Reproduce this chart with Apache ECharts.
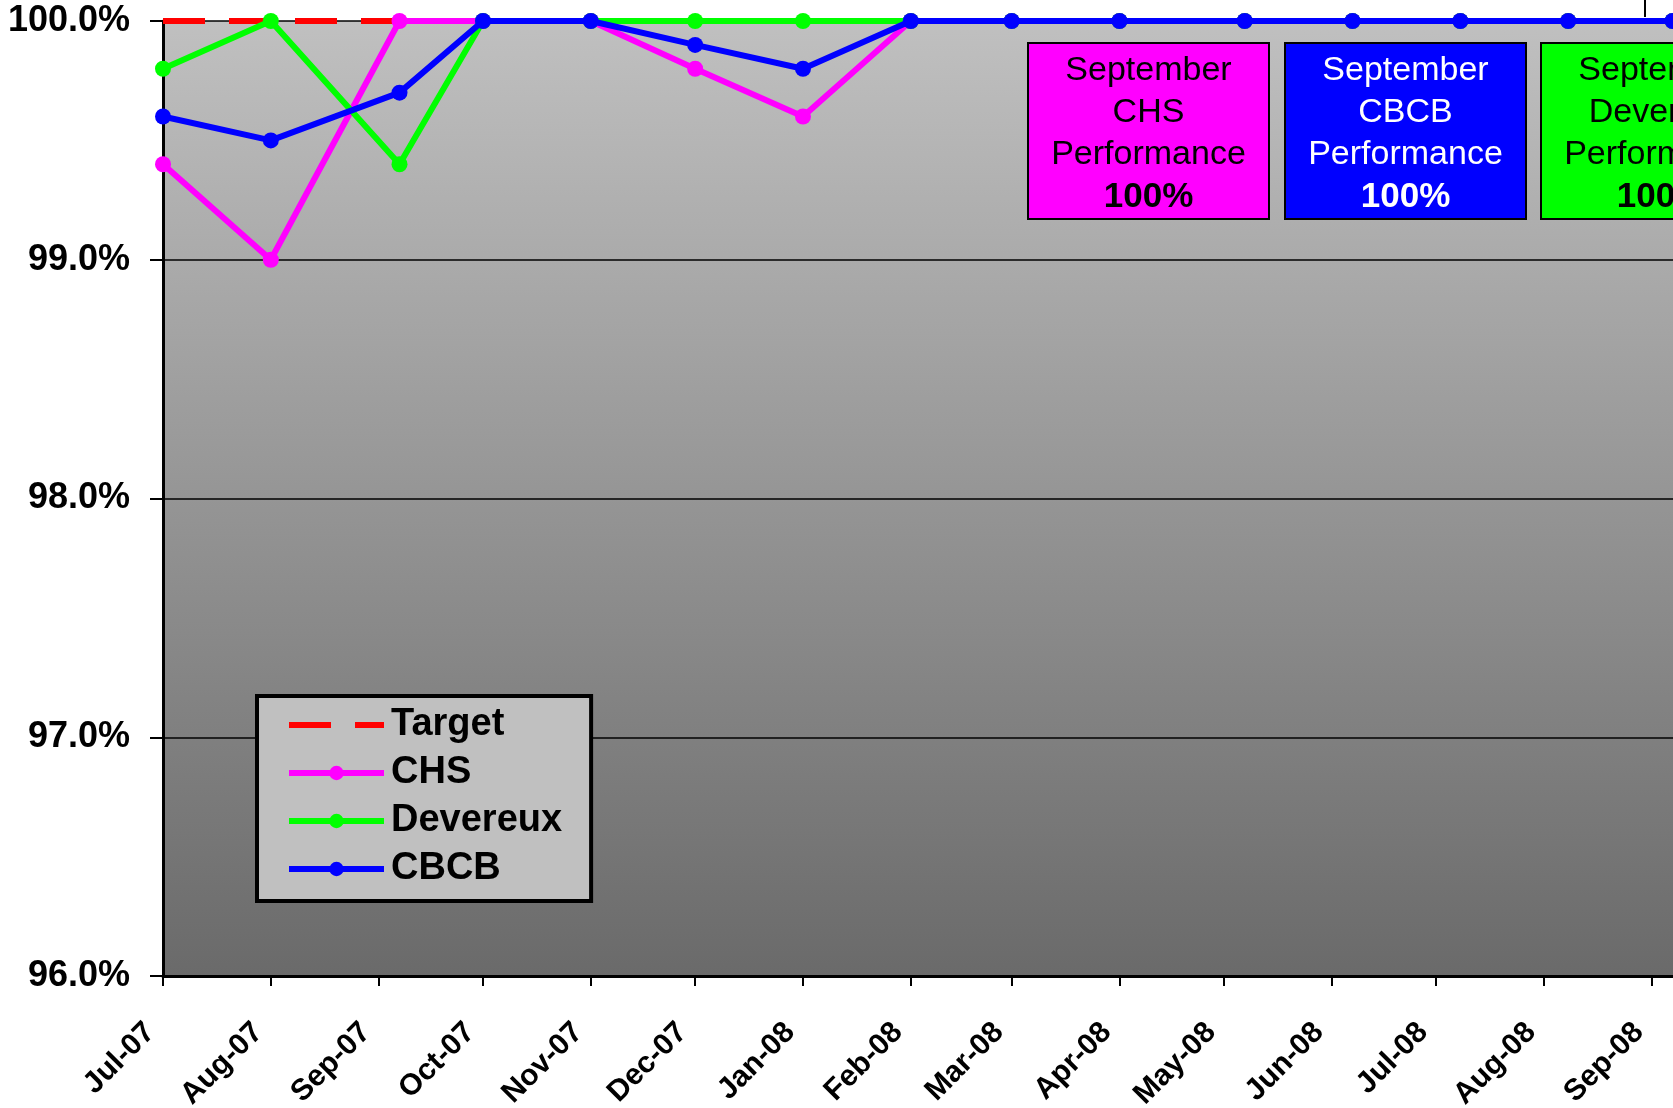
<!DOCTYPE html>
<html>
<head>
<meta charset="utf-8">
<script src="https://cdn.jsdelivr.net/npm/echarts@6/dist/echarts.min.js"></script>
<style>
html, body { margin: 0; padding: 0; background: #fff; overflow: hidden; }
#container { width: 1800px; height: 1108px; }
</style>
</head>
<body>
<div id="container"></div>
<script>
// dates of each monthly reading (a few were taken a week into the month)
var dates = ['2007-07-01', '2007-08-01', '2007-09-07', '2007-10-01', '2007-11-01', '2007-12-01',
    '2008-01-01', '2008-02-01', '2008-03-01', '2008-04-01', '2008-05-07', '2008-06-07',
    '2008-07-08', '2008-08-08', '2008-09-07'];
var targetValues   = [100, 100, 100, 100, 100, 100, 100, 100, 100, 100, 100, 100, 100, 100, 100];
var chsValues      = [99.4, 99.0, 100, 100, 100, 99.8, 99.6, 100, 100, 100, 100, 100, 100, 100, 100];
var devereuxValues = [99.8, 100, 99.4, 100, 100, 100, 100, 100, 100, 100, 100, 100, 100, 100, 100];
var cbcbValues     = [99.6, 99.5, 99.7, 100, 100, 99.9, 99.8, 100, 100, 100, 100, 100, 100, 100, 100];

// x axis ticks (month starts) and their labels
var tickDates = ['2007-07-01', '2007-08-01', '2007-09-01', '2007-10-01', '2007-11-01', '2007-12-01',
    '2008-01-01', '2008-02-01', '2008-03-01', '2008-04-01', '2008-05-01', '2008-06-01',
    '2008-07-01', '2008-08-01', '2008-09-01'];
var tickLabels = ['Jul-07', 'Aug-07', 'Sep-07', 'Oct-07', 'Nov-07', 'Dec-07', 'Jan-08', 'Feb-08',
    'Mar-08', 'Apr-08', 'May-08', 'Jun-08', 'Jul-08', 'Aug-08', 'Sep-08'];
var axisStart = '2007-07-01';
var axisEnd = '2008-10-01';

// september performance boxes
var boxNames  = ['CHS', 'CBCB', 'Devereux'];
var boxValues = ['100%', '100%', '100%'];

var FONT = "'Liberation Sans', Arial, sans-serif";

function t(d) { return Date.parse(d); }   // date-only strings parse as UTC

function pairs(vals) {
    var res = [];
    for (var i = 0; i < vals.length; i++) {
        res.push([t(dates[i]), vals[i]]);
    }
    return res;
}

var tickTimes = tickDates.map(t);
var labelByTime = {};
for (var i = 0; i < tickTimes.length; i++) {
    labelByTime[tickTimes[i]] = tickLabels[i];
}

var boxStyle = {
    CHS:      { x: 1028, fill: '#ff00ff', text: '#000' },
    CBCB:     { x: 1285, fill: '#0000ff', text: '#fff' },
    Devereux: { x: 1541, fill: '#00ff00', text: '#000' }
};

function perfBox(name, value) {
    var s = boxStyle[name];
    return {
        type: 'group',
        x: s.x,
        y: 43,
        children: [
            {
                type: 'rect',
                shape: { x: 0, y: 0, width: 241, height: 176 },
                style: { fill: s.fill, stroke: '#000', lineWidth: 2 }
            },
            {
                type: 'text',
                x: 120.5,
                y: 91,
                style: {
                    text: 'September\n' + name + '\nPerformance\n{b|' + value + '}',
                    fontFamily: FONT,
                    fontSize: 34,
                    lineHeight: 42,
                    fill: s.text,
                    align: 'center',
                    verticalAlign: 'middle',
                    rich: {
                        b: { fontFamily: FONT, fontSize: 35, fontWeight: 'bold', lineHeight: 42, fill: s.text }
                    }
                }
            }
        ]
    };
}

var graphics = [];
for (var b = 0; b < boxNames.length; b++) {
    graphics.push(perfBox(boxNames[b], boxValues[b]));
}
graphics.push({
    type: 'line',
    shape: { x1: 1645, y1: 0, x2: 1645, y2: 17 },
    style: { stroke: '#000', lineWidth: 2 }
});

var dom = document.getElementById('container');
var myChart = echarts.init(dom);

function lineSeries(name, vals, color, z) {
    return {
        name: name,
        type: 'line',
        data: pairs(vals),
        symbol: 'circle',
        symbolSize: 16,
        clip: false,
        color: color,
        itemStyle: { color: color },
        lineStyle: { color: color, width: 6 },
        z: z
    };
}

var option = {
    animation: false,
    backgroundColor: '#ffffff',
    grid: {
        left: 163,
        top: 21,
        right: 44,
        bottom: 132,
        containLabel: false,
        outerBoundsMode: 'none',
        show: true,
        borderWidth: 0,
        backgroundColor: {
            type: 'linear', x: 0, y: 0, x2: 0, y2: 1,
            colorStops: [
                { offset: 0, color: '#c0c0c0' },
                { offset: 1, color: '#6a6a6a' }
            ]
        }
    },
    legend: {
        orient: 'vertical',
        left: 257,
        top: 696,
        data: [
            { name: 'Target', itemStyle: { opacity: 0 } },
            'CHS', 'Devereux', 'CBCB'
        ],
        backgroundColor: '#c0c0c0',
        borderColor: '#000',
        borderWidth: 4,
        borderRadius: 0,
        padding: [9, 29, 12, 29],
        itemWidth: 95,
        itemHeight: 18,
        itemGap: 8,
        lineStyle: { width: 'inherit' },
        textStyle: {
            fontFamily: FONT,
            fontWeight: 'bold',
            fontSize: 38,
            lineHeight: 40,
            color: '#000',
            padding: [0, 0, 0, 2]
        }
    },
    xAxis: {
        type: 'value',
        min: t(axisStart),
        max: t(axisEnd),
        splitLine: { show: false },
        axisLine: { show: true, lineStyle: { color: '#000', width: 3 } },
        axisTick: {
            show: true,
            customValues: tickTimes,
            length: 10,
            lineStyle: { color: '#000', width: 2 }
        },
        axisLabel: {
            customValues: tickTimes,
            rotate: 45,
            margin: 39,
            padding: [0, 18, 0, 0],
            fontFamily: FONT,
            fontWeight: 'bold',
            fontSize: 30,
            color: '#000',
            formatter: function (val) {
                return labelByTime[val] || '';
            }
        }
    },
    yAxis: {
        type: 'value',
        min: 96,
        max: 100,
        interval: 1,
        axisLine: { show: true, lineStyle: { color: '#000', width: 3 } },
        axisTick: { show: true, length: 13, lineStyle: { color: '#000', width: 2 } },
        splitLine: { show: true, lineStyle: { color: '#000', width: 1.5 } },
        axisLabel: {
            margin: 33,
            fontFamily: FONT,
            fontWeight: 'bold',
            fontSize: 36,
            color: '#000',
            formatter: function (v) { return v.toFixed(1) + '%'; }
        }
    },
    series: [
        {
            name: 'Target',
            type: 'line',
            data: pairs(targetValues),
            symbol: 'none',
            clip: false,
            color: '#ff0000',
            lineStyle: { color: '#ff0000', width: 6, type: [42, 24] },
            z: 2
        },
        lineSeries('CHS', chsValues, '#ff00ff', 3),
        lineSeries('Devereux', devereuxValues, '#00ff00', 4),
        lineSeries('CBCB', cbcbValues, '#0000ff', 5)
    ],
    graphic: graphics
};

if (option && typeof option === 'object') {
    myChart.setOption(option, true);
}
</script>
</body>
</html>
